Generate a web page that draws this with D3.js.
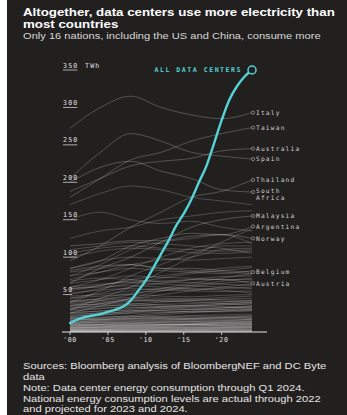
<!DOCTYPE html>
<html>
<head>
<meta charset="utf-8">
<script src="https://cdn.jsdelivr.net/npm/d3@7"></script>
<style>
  html, body { margin: 0; padding: 0; background: #fff; }
  svg { display: block; }
  .mono { font-family: "DejaVu Sans Mono", "Liberation Mono", monospace; }
  .sans { font-family: "Liberation Sans", Arial, sans-serif; }
</style>
</head>
<body>
<div id="chart"></div>
<script>
// data center consumption, TWh per year
const dcYears = d3.range(2000, 2025);
const dcValues = [12, 17, 20, 22, 24, 27, 30, 34, 42, 55, 69, 86, 104, 122, 142, 158, 177, 200, 222, 252, 283, 310, 328, 341, 350];

// national consumption sampled every 4 years
const countryYears = [2000, 2004, 2008, 2012, 2016, 2020, 2024];

const labeledNames = ['Italy', 'Taiwan', 'Australia', 'Spain', 'Thailand', 'South Africa', 'Malaysia', 'Argentina', 'Norway', 'Belgium', 'Austria'];
const labeledValues = [
  [272, 300, 315, 300, 290, 285, 293],
  [180, 205, 230, 240, 255, 265, 273],
  [188, 205, 222, 228, 232, 242, 245],
  [205, 240, 265, 255, 240, 235, 231],
  [95, 115, 140, 160, 180, 188, 203],
  [200, 220, 228, 215, 205, 190, 187],
  [65, 85, 100, 120, 140, 150, 155],
  [85, 95, 115, 125, 132, 130, 141],
  [115, 118, 122, 122, 128, 130, 125],
  [82, 88, 90, 85, 85, 82, 80],
  [58, 62, 68, 68, 70, 70, 65]
];

const otherValues = [
  [170, 185, 195, 190, 180, 175, 170],
  [125, 135, 140, 150, 155, 160, 162],
  [150, 160, 150, 145, 148, 140, 135],
  [105, 112, 115, 112, 110, 108, 110],
  [100, 108, 112, 110, 106, 105, 108],
  [75, 90, 110, 120, 125, 130, 118],
  [60, 70, 85, 100, 112, 118, 120],
  [110, 115, 120, 118, 115, 112, 105],
  [40, 55, 75, 90, 105, 115, 115],
  [85, 95, 100, 98, 96, 98, 100],
  [70, 80, 90, 96, 100, 110, 112],
  [30, 45, 60, 80, 100, 120, 138],
  [80, 85, 90, 85, 82, 80, 78],
  [75, 80, 85, 82, 80, 78, 82],
  [65, 70, 75, 73, 72, 70, 70],
  [55, 62, 70, 75, 80, 85, 88],
  [50, 58, 65, 72, 78, 82, 86],
  [68, 72, 70, 67, 66, 64, 62],
  [45, 52, 60, 65, 70, 74, 75],
  [60, 64, 66, 64, 62, 60, 58],
  [35, 42, 50, 58, 65, 72, 78],
  [52, 56, 58, 56, 55, 54, 55],
  [40, 45, 52, 55, 60, 65, 68],
  [25, 35, 45, 55, 62, 68, 72],
  [58, 60, 62, 60, 58, 56, 52],
  [48, 50, 55, 58, 57, 58, 60],
  [30, 38, 44, 50, 55, 60, 64],
  [42, 44, 46, 45, 44, 43, 42],
  [38, 40, 42, 41, 42, 44, 45],
  [35, 38, 41, 43, 44, 46, 48],
  [32, 34, 37, 40, 42, 41, 40],
  [28, 31, 35, 37, 38, 40, 42],
  [25, 28, 32, 34, 36, 38, 40],
  [22, 26, 30, 33, 35, 36, 38],
  [36, 37, 38, 36, 35, 34, 33],
  [30, 32, 33, 32, 31, 32, 34],
  [20, 24, 28, 31, 34, 37, 39],
  [18, 22, 26, 29, 30, 32, 35],
  [26, 28, 29, 28, 27, 28, 30],
  [24, 25, 27, 29, 30, 30, 29],
  [15, 19, 22, 25, 28, 30, 33],
  [33, 35, 36, 34, 33, 33, 31],
  [21, 23, 25, 26, 27, 27, 28],
  [40, 42, 44, 42, 40, 38, 36],
  [12, 16, 20, 23, 26, 28, 30],
  [45, 48, 50, 48, 47, 49, 50],
  [19, 20, 21, 21, 22, 23, 24],
  [17, 18, 20, 20, 21, 21, 22],
  [16, 17, 18, 19, 19, 20, 21],
  [14, 15, 17, 18, 18, 19, 20],
  [13, 14, 15, 16, 17, 18, 19],
  [12, 13, 14, 15, 16, 16, 17],
  [11, 12, 13, 14, 14, 15, 16],
  [10, 11, 12, 13, 13, 14, 15],
  [9, 10, 11, 12, 12, 13, 14],
  [9, 9, 10, 11, 11, 12, 12],
  [8, 9, 9, 10, 10, 11, 11],
  [7, 8, 9, 9, 10, 10, 11],
  [7, 7, 8, 8, 9, 9, 10],
  [6, 7, 7, 8, 8, 9, 9],
  [6, 6, 7, 7, 8, 8, 8],
  [5, 6, 6, 7, 7, 7, 8],
  [5, 5, 6, 6, 6, 7, 7],
  [4, 5, 5, 6, 6, 6, 7],
  [4, 4, 5, 5, 5, 6, 6],
  [3, 4, 4, 5, 5, 5, 6],
  [3, 3, 4, 4, 4, 5, 5],
  [3, 3, 3, 4, 4, 4, 4],
  [2, 3, 3, 3, 3, 4, 4],
  [2, 2, 3, 3, 3, 3, 3],
  [2, 2, 2, 2, 3, 3, 3],
  [1, 2, 2, 2, 2, 2, 2],
  [1, 1, 1, 2, 2, 2, 2],
  [1, 1, 1, 1, 1, 1, 1],
  [0.5, 0.6, 0.7, 0.8, 0.8, 0.9, 1],
  [0.3, 0.4, 0.4, 0.5, 0.5, 0.5, 0.6],
  [15, 16, 16, 17, 16, 16, 17],
  [11, 13, 12, 13, 14, 13, 14],
  [8, 10, 11, 10, 11, 12, 13],
  [18, 17, 18, 19, 18, 19, 18],
  [5, 7, 8, 9, 10, 11, 12],
  [10, 10, 9, 10, 10, 9, 10]
];

const yTicks = [50, 100, 150, 200, 250, 300, 350];
const xTicks = [2000, 2005, 2010, 2015, 2020];
const xTickLabels = ["'00", "'05", "'10", "'15", "'20"];

const titleLines = ['Altogether, data centers use more electricity than', 'most countries'];
const subtitle = 'Only 16 nations, including the US and China, consume more';
const notes = [
  'Sources: Bloomberg analysis of BloombergNEF and DC Byte',
  'data',
  'Note: Data center energy consumption through Q1 2024.',
  'National energy consumption levels are actual through 2022',
  'and projected for 2023 and 2024.'
];

const width = 347;
const height = 415;
const teal = '#55d2d6';
const bg = '#221f1f';

const svg = d3.select('#chart')
  .append('svg')
  .attr('width', width)
  .attr('height', height);

// dark panel
svg.append('rect')
  .attr('x', 7)
  .attr('y', 0)
  .attr('width', width - 7)
  .attr('height', height)
  .attr('fill', bg);

const x = d3.scaleLinear().domain([2000, 2024]).range([70, 252]);
const y = d3.scaleLinear().domain([0, 350]).range([332, 70]);

// the source typeface is wider than Liberation Sans, so stretch the block horizontally
function stretchBlock(g, refNode, targetWidth) {
  const k = targetWidth / refNode.getComputedTextLength();
  g.attr('transform', `translate(23,0) scale(${k},1)`);
}

// title block
const titleG = svg.append('g').attr('class', 'sans');
titleG.selectAll('text')
  .data(titleLines)
  .join('text')
  .attr('x', 0)
  .attr('y', (d, i) => 16.5 + i * 12)
  .attr('fill', '#fff')
  .style('font-size', '10.6px')
  .style('font-weight', 'bold')
  .text(d => d);
stretchBlock(titleG, titleG.select('text').node(), 312);

const subG = svg.append('g').attr('class', 'sans');
const subText = subG.append('text')
  .attr('x', 0).attr('y', 39.5)
  .attr('fill', '#d8d8d8')
  .style('font-size', '9.8px')
  .text(subtitle);
stretchBlock(subG, subText.node(), 298);

const line = d3.line()
  .x((d, i) => x(countryYears[i]))
  .y(d => y(d))
  .curve(d3.curveMonotoneX);

// unlabeled countries
svg.append('g')
  .selectAll('path')
  .data(otherValues)
  .join('path')
  .attr('d', line)
  .attr('fill', 'none')
  .attr('stroke', '#fff')
  .attr('stroke-opacity', 0.33)
  .attr('stroke-width', 0.6);

// labeled countries
svg.append('g')
  .selectAll('path')
  .data(labeledValues)
  .join('path')
  .attr('d', line)
  .attr('fill', 'none')
  .attr('stroke', '#fff')
  .attr('stroke-opacity', 0.38)
  .attr('stroke-width', 0.6);

// y axis labels with underline
const yAxis = svg.append('g').attr('class', 'mono');
yTicks.forEach(v => {
  const t = yAxis.append('text')
    .attr('x', 63)
    .attr('y', y(v) - 2.5)
    .attr('fill', '#e0e0e0')
    .style('font-size', '6.6px')
    .style('letter-spacing', '1.2px')
    .text(v);
  const w = t.node().getComputedTextLength() - 1.2;
  yAxis.append('line')
    .attr('x1', 63).attr('x2', 63 + w)
    .attr('y1', y(v)).attr('y2', y(v))
    .attr('stroke', '#cfcfcf')
    .attr('stroke-width', 0.8);
});
yAxis.append('text')
  .attr('x', 85)
  .attr('y', y(350) - 2.5)
  .attr('fill', '#e0e0e0')
  .style('font-size', '6.6px')
  .style('letter-spacing', '1.2px')
  .text('TWh');

// x axis
svg.append('line')
  .attr('x1', 62).attr('x2', 267)
  .attr('y1', y(0)).attr('y2', y(0))
  .attr('stroke', '#e8e8e8')
  .attr('stroke-width', 1.2);
const xAxis = svg.append('g').attr('class', 'mono');
xTicks.forEach((v, i) => {
  xAxis.append('line')
    .attr('x1', x(v)).attr('x2', x(v))
    .attr('y1', y(0)).attr('y2', y(0) + 3)
    .attr('stroke', '#e8e8e8')
    .attr('stroke-width', 0.8);
  xAxis.append('text')
    .attr('x', x(v))
    .attr('y', y(0) + 10)
    .attr('text-anchor', 'middle')
    .attr('fill', '#e0e0e0')
    .style('font-size', '6.6px')
    .style('letter-spacing', '0.6px')
    .text(xTickLabels[i]);
});

// country end markers and labels
const last = countryYears.length - 1;
const labels = svg.append('g').attr('class', 'mono');
labeledNames.forEach((name, i) => {
  const v = labeledValues[i][last];
  const cy = y(v);
  labels.append('circle')
    .attr('cx', x(2024) + 1)
    .attr('cy', cy)
    .attr('r', 1.6)
    .attr('fill', bg)
    .attr('stroke', '#bdbdbd')
    .attr('stroke-width', 0.6);
  const words = name.split(' ');
  words.forEach((word, k) => {
    labels.append('text')
      .attr('x', x(2024) + 4)
      .attr('y', cy + 2.2 + k * 7.2 - (words.length > 1 ? 1 : 0))
      .attr('fill', '#cfcfcf')
      .style('font-size', '6.2px')
      .style('letter-spacing', '1.2px')
      .text(word);
  });
});

// data center line
const dcLine = d3.line()
  .x((d, i) => x(dcYears[i]))
  .y(d => y(d))
  .curve(d3.curveMonotoneX);

svg.append('path')
  .datum(dcValues)
  .attr('d', dcLine)
  .attr('fill', 'none')
  .attr('stroke', teal)
  .attr('stroke-width', 2.4)
  .attr('stroke-linecap', 'round');

svg.append('circle')
  .attr('cx', x(2024))
  .attr('cy', y(dcValues[dcValues.length - 1]))
  .attr('r', 4)
  .attr('fill', bg)
  .attr('stroke', teal)
  .attr('stroke-width', 1.5);

svg.append('text')
  .attr('class', 'mono')
  .attr('x', 242)
  .attr('y', y(350) + 2)
  .attr('text-anchor', 'end')
  .attr('fill', teal)
  .style('font-size', '6.6px')
  .style('font-weight', 'bold')
  .style('letter-spacing', '1.5px')
  .text('ALL DATA CENTERS');

// footer notes
const noteY = [369, 380.5, 391.5, 402, 412.5];
const notesG = svg.append('g').attr('class', 'sans');
notesG.selectAll('text')
  .data(notes)
  .join('text')
  .attr('x', 0)
  .attr('y', (d, i) => noteY[i])
  .attr('fill', '#e6e6e6')
  .style('font-size', '9.2px')
  .text(d => d);
stretchBlock(notesG, notesG.select('text').node(), 303);
</script>
</body>
</html>
